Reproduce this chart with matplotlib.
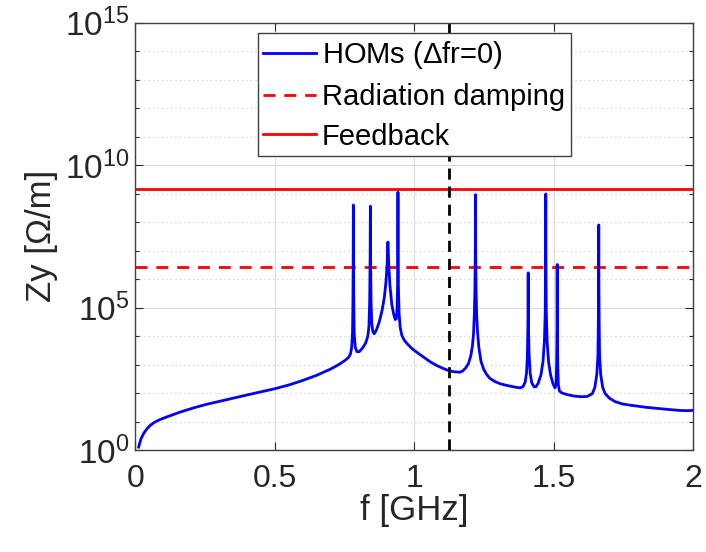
import matplotlib
matplotlib.use("Agg")
import matplotlib.pyplot as plt
import numpy as np

plt.rcParams['font.family'] = ['Liberation Sans', 'DejaVu Sans']
plt.rcParams['mathtext.fontset'] = 'custom'
plt.rcParams['mathtext.rm'] = 'Liberation Sans'

# HOM impedance curve (f in GHz, log10 of Zy)
hom_freq = [0.012, 0.02, 0.03, 0.04, 0.053, 0.07, 0.089, 0.11, 0.13, 0.155,
            0.18, 0.21, 0.25, 0.307, 0.36, 0.40, 0.45, 0.50, 0.55, 0.60,
            0.65, 0.70, 0.73, 0.75, 0.765, 0.772, 0.776, 0.779, 0.7805, 0.7815,
            0.782, 0.7825, 0.7835, 0.785, 0.789, 0.795, 0.803, 0.815, 0.826, 0.834,
            0.838, 0.8405, 0.8422, 0.843, 0.8438, 0.8455, 0.848, 0.852, 0.857, 0.865,
            0.875, 0.885, 0.893, 0.899, 0.903, 0.906, 0.909, 0.913, 0.92, 0.927,
            0.932, 0.936, 0.939, 0.9408, 0.9415, 0.942, 0.9425, 0.9435, 0.946, 0.950,
            0.956, 0.965, 0.975, 0.99, 1.00, 1.018, 1.04, 1.06, 1.08, 1.10,
            1.12, 1.14, 1.164, 1.175, 1.185, 1.195, 1.203, 1.209, 1.213, 1.216,
            1.218, 1.2192, 1.220, 1.2208, 1.222, 1.224, 1.227, 1.232, 1.24, 1.25,
            1.26, 1.272, 1.29, 1.31, 1.335, 1.36, 1.38, 1.39, 1.398, 1.403,
            1.406, 1.408, 1.409, 1.410, 1.412, 1.416, 1.422, 1.430, 1.437, 1.445,
            1.455, 1.462, 1.467, 1.470, 1.4712, 1.472, 1.4728, 1.474, 1.477, 1.482,
            1.489, 1.497, 1.505, 1.509, 1.511, 1.5125, 1.513, 1.5135, 1.515, 1.517,
            1.521, 1.53, 1.55, 1.576, 1.60, 1.621, 1.639, 1.648, 1.655, 1.659,
            1.6605, 1.6614, 1.662, 1.6626, 1.6635, 1.665, 1.669, 1.676, 1.685, 1.70,
            1.72, 1.745, 1.77, 1.83, 1.893, 1.95, 1.98, 2.0]
hom_logz = [0.1, 0.38, 0.58, 0.72, 0.86, 0.98, 1.07, 1.15, 1.22, 1.31,
            1.39, 1.48, 1.59, 1.72, 1.84, 1.93, 2.04, 2.15, 2.28, 2.44,
            2.62, 2.84, 3.0, 3.13, 3.25, 3.38, 3.6, 4.1, 5.2, 6.8,
            8.60, 6.8, 5.2, 4.1, 3.6, 3.45, 3.45, 3.58, 3.75, 4.0,
            4.35, 5.2, 6.8, 8.56, 6.8, 5.2, 4.45, 4.15, 4.08, 4.22,
            4.5, 4.9, 5.35, 5.9, 6.5, 7.30, 6.5, 5.8, 5.1, 4.75,
            4.58, 4.6, 5.0, 5.9, 7.0, 9.05, 7.0, 5.8, 4.8, 4.3,
            4.02, 3.85, 3.73, 3.58, 3.50, 3.37, 3.22, 3.08, 2.97, 2.88,
            2.80, 2.75, 2.73, 2.78, 2.88, 3.04, 3.3, 3.65, 4.1, 4.8,
            5.7, 6.9, 8.96, 6.9, 5.7, 4.8, 4.2, 3.6, 3.1, 2.82,
            2.65, 2.51, 2.40, 2.32, 2.26, 2.21, 2.18, 2.22, 2.38, 2.7,
            3.3, 4.4, 6.22, 4.4, 3.4, 2.7, 2.35, 2.22, 2.22, 2.35,
            2.65, 3.1, 3.8, 4.8, 6.2, 8.99, 6.2, 4.8, 3.8, 3.1,
            2.65, 2.35, 2.18, 2.3, 3.0, 4.5, 6.51, 4.5, 3.0, 2.3,
            2.07, 2.00, 1.94, 1.89, 1.87, 1.88, 1.98, 2.2, 2.65, 3.3,
            4.5, 5.8, 7.90, 5.8, 4.5, 3.3, 2.65, 2.2, 1.98, 1.82,
            1.70, 1.62, 1.58, 1.50, 1.44, 1.39, 1.38, 1.39]

radiation_level = 2.6e6
feedback_level = 1.45e9
f_cut = 1.124

x_ticks = [0, 0.5, 1, 1.5, 2]
x_labels = ['0', '0.5', '1', '1.5', '2']
y_ticks = [1e0, 1e5, 1e10, 1e15]
y_labels = [r'$\mathregular{10^{0}}$', r'$\mathregular{10^{5}}$',
            r'$\mathregular{10^{10}}$', r'$\mathregular{10^{15}}$']

fig = plt.figure(figsize=(7.06, 5.52), dpi=100)
ax = fig.add_axes([0.1916, 0.1848, 0.7900, 0.7741])

zy = 10 ** np.array(hom_logz)
ax.semilogy(hom_freq, zy, color=(0, 0, 1), lw=2, label='HOMs ($\\Delta$fr=0)', zorder=3)
ax.axhline(radiation_level, color=(1, 0, 0), lw=2, ls=(0, (4.3, 3.2)),
           label='Radiation damping', zorder=2)
ax.axhline(feedback_level, color=(1, 0, 0), lw=2, label='Feedback', zorder=2)
ax.axvline(f_cut, color='k', lw=2, ls=(0, (4.0, 2.5)), zorder=4)

ax.set_xlim(0, 2)
ax.set_ylim(1e0, 1e15)
ax.set_xticks(x_ticks)
ax.set_xticklabels(x_labels)
ax.set_yticks(y_ticks)
ax.set_yticklabels(y_labels)
ax.set_yticks([10.0 ** k for k in range(16) if k % 5], minor=True)
ax.yaxis.set_minor_formatter(matplotlib.ticker.NullFormatter())
ax.xaxis.set_minor_locator(matplotlib.ticker.NullLocator())

ax.grid(True, which='major', color='#dcdcdc', lw=0.8)
ax.grid(True, which='minor', axis='y', color='#c8c8c8', lw=0.8, ls=(0, (1, 3)))
ax.set_axisbelow(True)

ax.tick_params(which='both', direction='in', top=True, right=True,
               colors='#262626', width=0.8)
ax.tick_params(which='major', length=6)
ax.tick_params(which='minor', length=3)
ax.tick_params(axis='x', labelsize=23, pad=10)
ax.tick_params(axis='y', labelsize=24, pad=4)
for s in ax.spines.values():
    s.set_color('#404040')
    s.set_linewidth(1)

ax.set_xlabel('f [GHz]', fontsize=25, color='#262626', labelpad=0)
ax.set_ylabel('Zy [Ω/m]', fontsize=25, color='#262626', labelpad=5)

leg = ax.legend(loc='upper center', bbox_to_anchor=(0.5, 0.975), borderaxespad=0,
                fontsize=21, fancybox=False, framealpha=1, edgecolor='#404040',
                handlelength=1.8, handletextpad=0.2, labelspacing=0.4,
                borderpad=0.2)
leg.get_frame().set_linewidth(1)

fig.savefig('out.png', dpi=100)
